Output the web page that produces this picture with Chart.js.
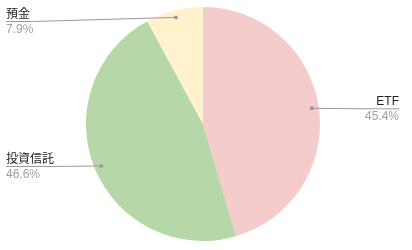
<!DOCTYPE html>
<html>
<head>
<meta charset="utf-8">
<script src="https://cdn.jsdelivr.net/npm/chart.js@4"></script>
<style>
  html, body { margin: 0; padding: 0; background: #fff; }
</style>
</head>
<body>
<canvas id="pieChart" width="412" height="250"></canvas>
<script>
const labels = ['ETF', '投資信託', '預金'];
const values = [45.4, 46.6, 7.9];
const colors = ['#f4cccc', '#b6d7a8', '#fff2cc'];

const FONT = '"Liberation Sans", Arial, "Noto Sans CJK JP", sans-serif';

// leader lines + labels, drawn like the google pie
const calloutPlugin = {
    id: 'callouts',
    afterDraw(chart) {
        const ctx = chart.ctx;
        const meta = chart.getDatasetMeta(0);
        const total = values.reduce((a, b) => a + b, 0);
        const W = chart.width;

        meta.data.forEach((arc, i) => {
            const p = arc.getProps(['x', 'y', 'startAngle', 'endAngle', 'outerRadius']);
            const mid = (p.startAngle + p.endAngle) / 2;
            const dx = p.x + Math.cos(mid) * p.outerRadius * 0.94;
            const dy = p.y + Math.sin(mid) * p.outerRadius * 0.94;
            const right = Math.cos(mid) >= 0;
            const ly = Math.max(dy, 21);
            const pct = (values[i] / total * 100).toFixed(1) + '%';

            ctx.save();
            ctx.font = '12px ' + FONT;
            const tw = Math.max(ctx.measureText(labels[i]).width, ctx.measureText(pct).width);
            const edge = right ? W - 13 : 6;
            const knee = right ? edge - tw : edge + tw;

            ctx.strokeStyle = '#999999';
            ctx.lineWidth = 1;
            ctx.beginPath();
            ctx.moveTo(dx, dy);
            ctx.lineTo(knee, ly + 0.5);
            ctx.lineTo(edge, ly + 0.5);
            ctx.stroke();

            ctx.fillStyle = '#999999';
            ctx.beginPath();
            ctx.arc(dx, dy, 2, 0, Math.PI * 2);
            ctx.fill();

            ctx.textAlign = right ? 'right' : 'left';
            ctx.textBaseline = 'alphabetic';
            ctx.fillStyle = '#222222';
            ctx.fillText(labels[i], edge, ly - 3);
            ctx.fillStyle = '#9e9e9e';
            ctx.fillText(pct, edge, ly + 12);
            ctx.restore();
        });
    }
};

const ctx = document.getElementById('pieChart').getContext('2d');
const chart = new Chart(ctx, {
    type: 'pie',
    data: {
        labels: labels,
        datasets: [{
            data: values,
            backgroundColor: colors,
            borderWidth: 0,
        }],
    },
    options: {
        responsive: false,
        animation: false,
        layout: { padding: { top: 7, bottom: 9, left: 0, right: 6 } },
        plugins: {
            legend: { display: false },
            tooltip: { enabled: false },
        },
    },
    plugins: [calloutPlugin],
});
</script>
</body>
</html>
